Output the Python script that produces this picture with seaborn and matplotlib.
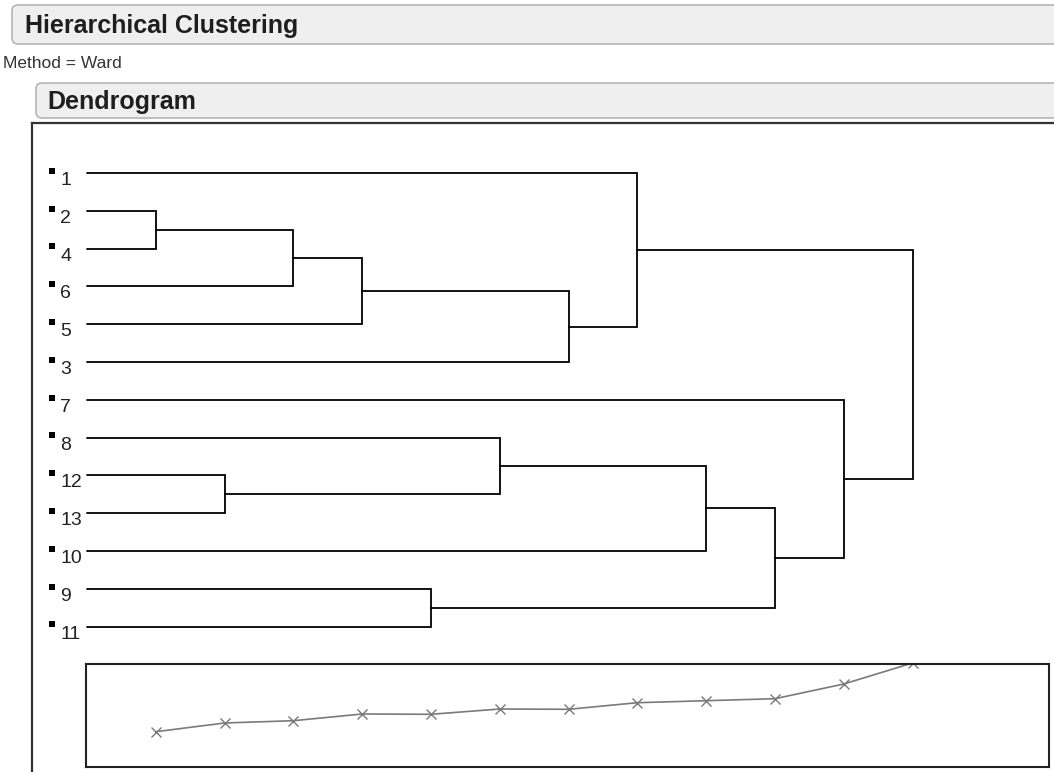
import numpy as np
import matplotlib
matplotlib.use("Agg")
import matplotlib.pyplot as plt
from matplotlib.patches import FancyBboxPatch
import seaborn as sns

# Data
leaf_order = ["1", "2", "4", "6", "5", "3", "7", "8", "12", "13", "10", "9", "11"]
# merges in join order: node "mK" is the cluster made by the K-th join
merge_a = ["2", "12", "m1", "m3", "9", "8", "m4", "1", "m6", "m9", "7", "m8"]
merge_b = ["4", "13", "6", "5", "11", "m2", "3", "m7", "10", "m5", "m10", "m11"]
merge_step = [1, 2, 3, 4, 5, 6, 7, 8, 9, 10, 11, 12]
# joining distance per step (scree plot under the dendrogram)
scree_distance = [35.3, 44.0, 46.3, 53.0, 52.7, 58.0, 57.7, 64.3, 66.3, 68.3, 83.0, 104.0]

sns.set_theme(style="white")
plt.rcParams["font.family"] = ["Liberation Sans", "DejaVu Sans"]

W, H = 1054, 772
fig = plt.figure(figsize=(W / 100, H / 100), dpi=100)
fig.patch.set_facecolor("white")


def px_rect(x0, y0, x1, y1):
    return [x0 / W, 1 - y1 / H, (x1 - x0) / W, (y1 - y0) / H]


# header boxes and caption (page decoration)
deco = fig.add_axes([0, 0, 1, 1])
deco.set_xlim(0, W)
deco.set_ylim(H, 0)
deco.axis("off")
for (x0, y0, y1, txt, tx) in [(12, 5, 44, "Hierarchical Clustering", 25),
                              (36, 83, 118, "Dendrogram", 47)]:
    deco.add_patch(FancyBboxPatch((x0, y0), W + 20 - x0, y1 - y0,
                                  boxstyle="round,pad=0,rounding_size=6",
                                  facecolor="#efefef", edgecolor="#b5b5b5", lw=1.2))
    deco.text(tx, (y0 + y1) / 2 + 1, txt, fontsize=18, fontweight="bold",
              color="#1e1e1e", va="center", ha="left")
deco.text(3, 64, "Method = Ward", fontsize=12.5, color="#333333", va="center", ha="left")

# geometry of the dendrogram panel
unit_x = 68.8   # px per join step
unit_y = 37.8   # px per leaf row
x_zero = 87
row_zero = 173

ax = fig.add_axes(px_rect(32, 123, W, H))
ax.set_xlim(-(x_zero - 32) / unit_x, (W - x_zero) / unit_x)
ax.set_ylim((H - row_zero) / unit_y, -(row_zero - 123) / unit_y)
ax.set_xticks([])
ax.set_yticks([])
for side in ["right", "bottom"]:
    ax.spines[side].set_visible(False)
for side in ["left", "top"]:
    ax.spines[side].set_color("#333333")
    ax.spines[side].set_linewidth(1.6)

pos = {name: (0.0, float(i)) for i, name in enumerate(leaf_order)}
for k, (a, b, step) in enumerate(zip(merge_a, merge_b, merge_step), start=1):
    xa, ya = pos[a]
    xb, yb = pos[b]
    ax.plot([xa, step, step, xb], [ya, ya, yb, yb], color="black", lw=1.3,
            solid_joinstyle="miter")
    pos[f"m{k}"] = (float(step), (ya + yb) / 2)

rows = np.arange(len(leaf_order))
sns.scatterplot(x=np.full(len(rows), -0.51), y=rows - 0.06, marker="s", s=18,
                color="black", edgecolor="black", linewidth=0, ax=ax, legend=False)
for r, name in zip(rows, leaf_order):
    ax.text(-0.39, r + 0.2, name, fontsize=14, color="#222222", va="center", ha="left")

# scree plot
sax = fig.add_axes(px_rect(86, 664, 1049, 767))
sax.set_facecolor("white")
sns.lineplot(x=merge_step, y=scree_distance, ax=sax, color="#7a7a7a", lw=1.2,
             marker="x", markersize=7, markeredgewidth=1.0, markeredgecolor="#7a7a7a")
sax.set_xlim(-(x_zero - 86) / unit_x, (1049 - x_zero) / unit_x)
sax.set_ylim(0, 103)
sax.set_xticks([])
sax.set_yticks([])
sax.set_xlabel("")
sax.set_ylabel("")
for sp in sax.spines.values():
    sp.set_visible(True)
    sp.set_color("#222222")
    sp.set_linewidth(1.5)

fig.savefig("out.png", dpi=100, facecolor="white")
